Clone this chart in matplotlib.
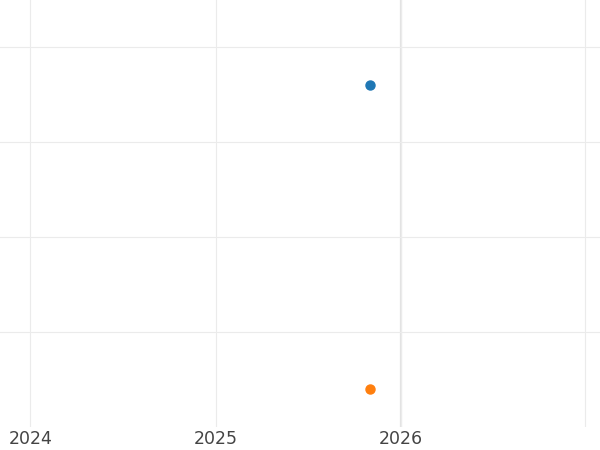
import matplotlib
matplotlib.use('Agg')
import matplotlib.pyplot as plt
import matplotlib.dates as mdates
import numpy as np
from datetime import datetime

# data
Dates = [datetime(2025, 11, 1), datetime(2025, 11, 1)]
Values = [3.6, 0.4]
Colors = ['#1f77b4', '#ff7f0e']
XTicks = [datetime(2024, 1, 1), datetime(2025, 1, 1), datetime(2026, 1, 1), datetime(2027, 1, 1)]
XLabels = ['2024', '2025', '2026', '']
YTicks = [1, 2, 3, 4]

fig = plt.figure(figsize=(6, 4.5), dpi=100)
ax = fig.add_axes([0, 23/450, 1, 427/450])

for d, v, c in zip(Dates, Values, Colors):
    ax.plot([d], [v], 'o', color=c, markersize=6.5, zorder=3)

ax.set_xlim(datetime(2023, 11, 2), datetime(2027, 1, 30))
ax.set_ylim(0, 4.495)
ax.set_xticks(XTicks)
ax.set_xticklabels(XLabels)
ax.set_yticks(YTicks)
ax.set_yticklabels([])
ax.grid(True, color='#ebebeb', linewidth=0.8)
ax.axvline(datetime(2026, 1, 1), color='#e3e3e3', linewidth=1.6, zorder=1)
ax.tick_params(length=0, labelsize=12.5, labelcolor='#444444', pad=2.5)
for s in ax.spines.values():
    s.set_visible(False)

fig.savefig('out.png', dpi=100)
